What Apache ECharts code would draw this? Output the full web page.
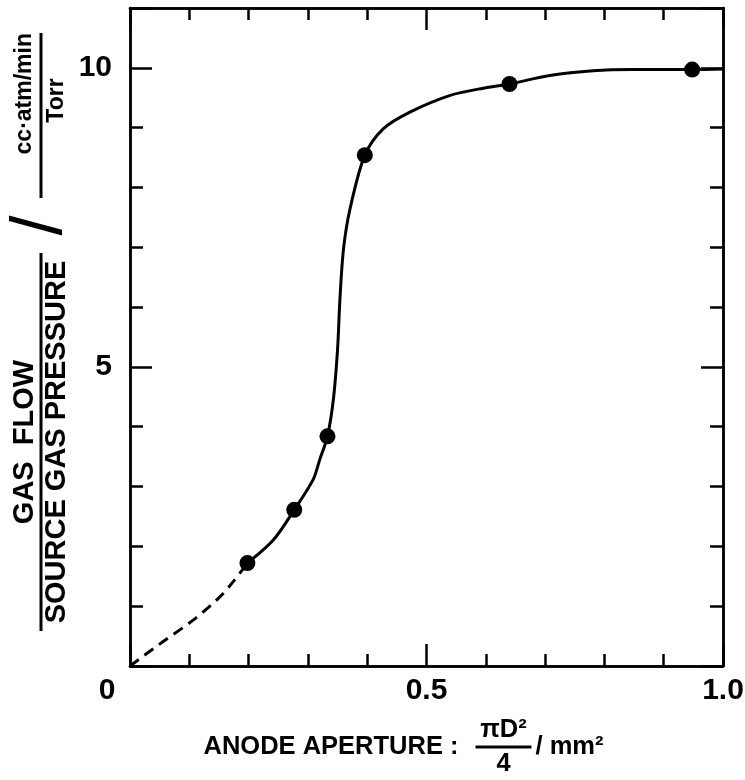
<!DOCTYPE html>
<html>
<head>
<meta charset="utf-8">
<script src="https://cdn.jsdelivr.net/npm/echarts@6/dist/echarts.min.js"></script>
<style>
html,body{margin:0;padding:0;background:#fff;}
#chart{width:745px;height:780px;}
</style>
</head>
<body>
<div id="chart"></div>
<script>
// Measured points (anode aperture pi*D^2/4 in mm^2, gas flow / source pressure)
const pointX = [0.198, 0.277, 0.333, 0.396, 0.640, 0.948];
const pointY = [1.72, 2.61, 3.84, 8.54, 9.73, 9.97];

// Solid fitted curve
const curveX = [0.198, 0.242, 0.277, 0.309, 0.320, 0.333, 0.343, 0.350, 0.354, 0.360, 0.371, 0.396, 0.427, 0.472, 0.540, 0.596, 0.640, 0.708, 0.781, 0.848, 0.948, 1.0];
const curveY = [1.72, 2.11, 2.61, 3.12, 3.45, 3.84, 4.46, 5.29, 6.13, 6.97, 7.64, 8.54, 8.98, 9.26, 9.54, 9.66, 9.73, 9.87, 9.95, 9.97, 9.97, 9.98];

// Dashed extrapolation to the origin
const dashX = [0, 0.056, 0.107, 0.152, 0.174, 0.198];
const dashY = [0, 0.41, 0.77, 1.16, 1.41, 1.72];

// Tick labels
const xTickLabels = {0: '0', 0.5: '0.5', 1: '1.0'};
const yTickLabels = {5: '5', 10: '10'};

const FONT = "'Liberation Sans', Arial, sans-serif";
const zip = (a, b) => a.map((v, i) => [v, b[i]]);

const chart = echarts.init(document.getElementById('chart'), null, {renderer: 'canvas'});

const lineStyle = {color: '#000', width: 2.5};
const baseX = {
  type: 'value', min: 0, max: 1, splitLine: {show: false},
  axisLine: {show: true, onZero: false, lineStyle: lineStyle}
};
const baseY = {
  type: 'value', min: 0, max: 11, splitLine: {show: false},
  axisLine: {show: true, onZero: false, lineStyle: lineStyle}
};

const xName =
  '{sp1| }{num|πD²}{sp3| }\n' +
  '{lbl|ANODE APERTURE :}{bar| }{unit|/ mm²}\n' +
  '{sp1| }{den|4}{sp3| }';

const yName =
  '{a1|GAS  FLOW}{gap| }{b1|cc·atm/min}\n' +
  '{barA| }{sl|/}{barB| }\n' +
  '{a2|SOURCE GAS PRESSURE}{gap| }{b2|Torr}';

function xLabel(v) {
  for (const k in xTickLabels) {
    if (Math.abs(v - Number(k)) < 1e-6) {
      return Number(k) === 0 ? '{o|' + xTickLabels[k] + '}' : xTickLabels[k];
    }
  }
  return '';
}
function yLabel(v) {
  for (const k in yTickLabels) {
    if (Math.abs(v - Number(k)) < 1e-6) return yTickLabels[k];
  }
  return '';
}

const tickFont = {fontFamily: FONT, fontSize: 30, fontWeight: 'bold', color: '#000'};
const xt = {fontFamily: FONT, fontSize: 25.5, fontWeight: 'bold', color: '#000'};
const yt = {fontFamily: FONT, fontSize: 29, fontWeight: 'bold', color: '#000'};
const yu = {fontFamily: FONT, fontSize: 23, fontWeight: 'bold', color: '#000'};

const option = {
  backgroundColor: '#fff',
  animation: false,
  grid: {left: 130, right: 22, top: 8, bottom: 114, containLabel: false, outerBoundsMode: 'none'},
  xAxis: [
    Object.assign({}, baseX, {
      position: 'bottom', interval: 0.1,
      axisTick: {show: true, inside: true, length: 12, lineStyle: {color: '#000', width: 2.5}},
      axisLabel: Object.assign({show: true, margin: 10, formatter: xLabel,
        rich: {o: Object.assign({}, tickFont, {padding: [0, 46, 0, 0]})}}, tickFont),
      name: xName, nameLocation: 'middle', nameGap: 50, nameMoveOverlap: false,
      nameTextStyle: Object.assign({}, xt, {
        rich: {
          sp1: {width: 272, lineHeight: 28, align: 'left'},
          sp3: {width: 118, lineHeight: 28},
          num: Object.assign({width: 56, align: 'center', lineHeight: 28}, xt),
          den: Object.assign({width: 56, align: 'center', lineHeight: 28}, xt),
          lbl: Object.assign({width: 272, align: 'left', lineHeight: 6}, xt),
          bar: {width: 56, height: 3, lineHeight: 6, align: 'left', backgroundColor: '#000'},
          unit: Object.assign({width: 114, align: 'left', lineHeight: 6, padding: [0, 0, 0, 4]}, xt)
        }
      })
    }),
    Object.assign({}, baseX, {
      position: 'bottom', interval: 0.5,
      axisTick: {show: true, inside: true, length: 22, lineStyle: {color: '#000', width: 2.5}},
      axisLabel: {show: false}
    }),
    Object.assign({}, baseX, {
      position: 'top', interval: 0.1,
      axisTick: {show: true, inside: true, length: 12, lineStyle: {color: '#000', width: 2.5}},
      axisLabel: {show: false}
    }),
    Object.assign({}, baseX, {
      position: 'top', interval: 0.5,
      axisTick: {show: true, inside: true, length: 22, lineStyle: {color: '#000', width: 2.5}},
      axisLabel: {show: false}
    })
  ],
  yAxis: [
    Object.assign({}, baseY, {
      position: 'left', interval: 1,
      axisTick: {show: true, inside: true, length: 13, lineStyle: {color: '#000', width: 2.5}},
      axisLabel: Object.assign({show: true, margin: 18, formatter: yLabel}, tickFont),
      name: yName, nameLocation: 'middle', nameGap: 60, nameRotate: 90, nameMoveOverlap: false,
      nameTextStyle: Object.assign({}, yt, {
        padding: [0, 0, 0, 10],
        rich: {
          a1: Object.assign({width: 378, align: 'center', lineHeight: 26}, yt),
          a2: Object.assign({width: 378, align: 'center', lineHeight: 26}, yt),
          gap: {width: 55, lineHeight: 26},
          b1: Object.assign({width: 165, align: 'right', lineHeight: 26}, yu),
          b2: Object.assign({width: 135, align: 'center', lineHeight: 26, padding: [0, 0, 0, 30]}, yu),
          barA: {width: 378, height: 3, lineHeight: 6, backgroundColor: '#000'},
          barB: {width: 165, height: 3, lineHeight: 6, backgroundColor: '#000'},
          sl: {width: 55, align: 'center', fontFamily: FONT, fontSize: 72, fontWeight: 'normal', lineHeight: 6, color: '#000'}
        }
      })
    }),
    Object.assign({}, baseY, {
      position: 'left', interval: 5,
      axisTick: {show: true, inside: true, length: 22, lineStyle: {color: '#000', width: 2.5}},
      axisLabel: {show: false}
    }),
    Object.assign({}, baseY, {
      position: 'right', interval: 1,
      axisTick: {show: true, inside: true, length: 13, lineStyle: {color: '#000', width: 2.5}},
      axisLabel: {show: false}
    }),
    Object.assign({}, baseY, {
      position: 'right', interval: 5,
      axisTick: {show: true, inside: true, length: 22, lineStyle: {color: '#000', width: 2.5}},
      axisLabel: {show: false}
    })
  ],
  series: [
    {
      name: 'dashed', type: 'line', xAxisIndex: 0, yAxisIndex: 0,
      data: zip(dashX, dashY), smooth: 0.3, showSymbol: false, symbol: 'none',
      lineStyle: {color: '#000', width: 3, type: [11, 7]}
    },
    {
      name: 'curve', type: 'line', xAxisIndex: 0, yAxisIndex: 0,
      data: zip(curveX, curveY), smooth: 0.3, showSymbol: false, symbol: 'none',
      lineStyle: {color: '#000', width: 3}
    },
    {
      name: 'measured', type: 'scatter', xAxisIndex: 0, yAxisIndex: 0,
      data: zip(pointX, pointY), symbol: 'circle', symbolSize: 16,
      itemStyle: {color: '#000', opacity: 1}, z: 5
    }
  ]
};
chart.setOption(option);
</script>
</body>
</html>
